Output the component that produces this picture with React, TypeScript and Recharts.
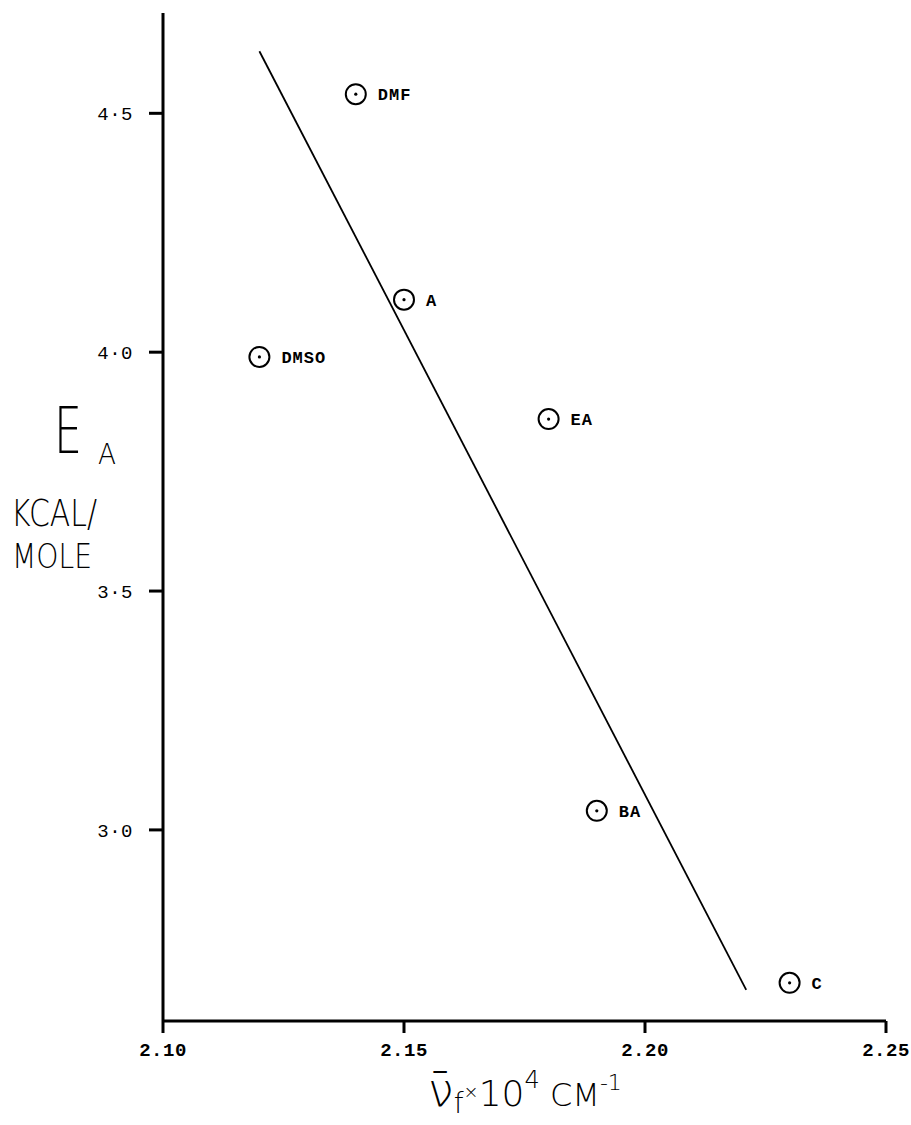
import { ScatterChart, Scatter, XAxis, YAxis, ReferenceLine } from 'recharts'

// Activation energy against fluorescence maximum for each solvent
const solvents = ['DMF', 'A', 'DMSO', 'EA', 'BA', 'C']
const wavenumbers = [2.14, 2.15, 2.12, 2.18, 2.19, 2.23]
const energies = [4.54, 4.11, 3.99, 3.86, 3.04, 2.68]

const xTicks = [2.1, 2.15, 2.2, 2.25]
const yTicks = [3.0, 3.5, 4.0, 4.5]

// end points of the fitted straight line
const fitX = [2.12, 2.221]
const fitY = [4.63, 2.665]

const points = solvents.map((name, i) => ({ name, x: wavenumbers[i], y: energies[i] }))

const typewriter = '"Liberation Mono", "DejaVu Sans Mono", monospace'
const hand = '"DejaVu Sans", sans-serif'

function Marker(props: any) {
    const { cx, cy, payload } = props
    return (
        <g>
            <circle cx={cx} cy={cy} r={10} fill="none" stroke="#000" strokeWidth={2} />
            <circle cx={cx} cy={cy} r={1.6} fill="#000" />
            <text x={cx + 22} y={cy} dy="0.36em" fontFamily={typewriter} fontSize={17} fontWeight="bold" letterSpacing={1} fill="#000">
                {payload.name}
            </text>
        </g>
    )
}

function XTitle() {
    return (
        <text x={428} y={1106} fontFamily={hand} fontWeight={300} fill="#000">
            <tspan fontSize={46}>{'\u03BD\u0304'}</tspan>
            <tspan fontSize={28} dy={7}>f</tspan>
            <tspan fontSize={18} dy={-15}>×</tspan>
            <tspan fontSize={36} dy={8}>10</tspan>
            <tspan fontSize={24} dy={-18}>4</tspan>
            <tspan fontSize={32} dy={18}> CM</tspan>
            <tspan fontSize={22} dy={-16}>-1</tspan>
        </text>
    )
}

function YTitle() {
    return (
        <g fill="#000" fontFamily={hand}>
            <text x={54} y={453} fontSize={64} fontWeight={300} textLength={28} lengthAdjust="spacingAndGlyphs">E</text>
            <text x={98} y={464} fontSize={28} fontWeight={300} textLength={18} lengthAdjust="spacingAndGlyphs">A</text>
            <text x={11} y={526} fontSize={38} fontWeight={300} textLength={86} lengthAdjust="spacingAndGlyphs">KCAL/</text>
            <text x={12} y={568} fontSize={34} fontWeight={300} textLength={80} lengthAdjust="spacingAndGlyphs">MOLE</text>
        </g>
    )
}

export default function App() {
    return (
        <div style={{ position: 'absolute', left: 0, top: 0, background: '#fff' }}>
            <ScatterChart width={911} height={1125} margin={{ top: 13, right: 25, bottom: 44, left: 0 }}>
                <XAxis
                    type="number"
                    dataKey="x"
                    domain={[2.1, 2.25]}
                    ticks={xTicks}
                    interval={0}
                    height={60}
                    tickFormatter={(v: number) => v.toFixed(2)}
                    axisLine={{ stroke: '#000', strokeWidth: 3 }}
                    tickLine={{ stroke: '#000', strokeWidth: 3 }}
                    tickSize={12}
                    tickMargin={10}
                    tick={{ fill: '#000', fontFamily: typewriter, fontSize: 19, fontWeight: 'bold', letterSpacing: 0.5 }}
                    label={{ content: () => <XTitle /> }}
                />
                <YAxis
                    type="number"
                    dataKey="y"
                    domain={[2.6, 4.71]}
                    ticks={yTicks}
                    interval={0}
                    width={163}
                    tickFormatter={(v: number) => v.toFixed(1).replace('.', '·')}
                    axisLine={{ stroke: '#000', strokeWidth: 3 }}
                    tickLine={{ stroke: '#000', strokeWidth: 3 }}
                    tickSize={14}
                    tickMargin={16}
                    tick={{ fill: '#000', fontFamily: typewriter, fontSize: 19, letterSpacing: 0.5 }}
                    label={{ content: () => <YTitle /> }}
                />
                <ReferenceLine
                    segment={[{ x: fitX[0], y: fitY[0] }, { x: fitX[1], y: fitY[1] }]}
                    stroke="#000"
                    strokeWidth={1.8}
                    ifOverflow="visible"
                />
                <Scatter data={points} shape={<Marker />} isAnimationActive={false} />
            </ScatterChart>
        </div>
    )
}
